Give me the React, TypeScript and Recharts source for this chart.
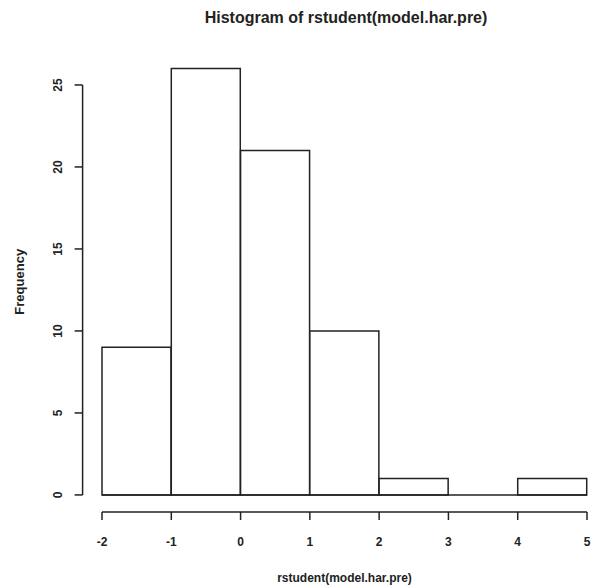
import { BarChart, Bar, XAxis, YAxis, ReferenceLine } from "recharts";

// histogram bins of rstudent(model.har.pre)
const binStarts = [-2, -1, 0, 1, 2, 3, 4];
const counts = [9, 26, 21, 10, 1, 0, 1];
const xTicks = [-2, -1, 0, 1, 2, 3, 4, 5];
const yTicks = [0, 5, 10, 15, 20, 25];

const data = binStarts.map((s, i) => ({
    bin: `${s}`,
    mid: s + 0.5,
    count: counts[i],
}));

const FONT = "'Liberation Sans', Arial, Helvetica, sans-serif";
const INK = "#222";

// R pads the data range by 4% on each side
const xMin = binStarts[0];
const xMax = xTicks[xTicks.length - 1];
const xPad = (xMax - xMin) * 0.04;
const yMax = Math.max(...counts);
const yPad = yMax * 0.04;

const YTick = ({ x, y, payload }: any) => {
    const tx = x - 13;
    return (
        <text
            x={tx}
            y={y}
            transform={`rotate(-90, ${tx}, ${y})`}
            textAnchor="middle"
            fontSize={12}
            fontWeight="bold"
            fontFamily={FONT}
            fill={INK}
        >
            {payload.value}
        </text>
    );
};

const App = () => {
    return (
        <div
            style={{
                position: "fixed",
                left: 0,
                top: 0,
                width: 597,
                height: 588,
                overflow: "hidden",
                background: "#fff",
            }}
        >
            <div
                style={{
                    position: "absolute",
                    left: 346,
                    top: 9,
                    transform: "translateX(-50%)",
                    whiteSpace: "nowrap",
                    fontFamily: FONT,
                    fontWeight: "bold",
                    fontSize: 16,
                    color: INK,
                }}
            >
                Histogram of rstudent(model.har.pre)
            </div>
            <BarChart
                width={640}
                height={588}
                data={data}
                barCategoryGap={0}
                margin={{ top: 51.5, right: 33.6, bottom: 0, left: 0 }}
            >
                <XAxis
                    xAxisId="num"
                    dataKey="mid"
                    type="number"
                    domain={[xMin - xPad, xMax + xPad]}
                    allowDataOverflow
                    ticks={xTicks}
                    interval={0}
                    height={76}
                    axisLine={false}
                    tickLine={{ stroke: INK, strokeWidth: 1.5 }}
                    tickSize={8}
                    tickMargin={17}
                    tick={{ fontSize: 12, fontWeight: "bold", fill: INK, fontFamily: FONT }}
                    label={{
                        value: "rstudent(model.har.pre)",
                        position: "insideBottom",
                        offset: 6,
                        fontSize: 12,
                        fontWeight: "bold",
                        fill: INK,
                        fontFamily: FONT,
                    }}
                />
                <XAxis
                    xAxisId="bins"
                    dataKey="bin"
                    type="category"
                    hide
                    height={0}
                    padding={{ left: 19.4, right: 19.4 }}
                />
                <YAxis
                    type="number"
                    domain={[-yPad, yMax + yPad]}
                    allowDataOverflow
                    ticks={yTicks}
                    interval={0}
                    width={82.6}
                    axisLine={false}
                    tickLine={{ stroke: INK, strokeWidth: 1.5 }}
                    tickSize={8}
                    tickMargin={0}
                    tick={<YTick />}
                    label={{
                        value: "Frequency",
                        angle: -90,
                        position: "insideLeft",
                        offset: 19,
                        fontSize: 13,
                        fontWeight: "bold",
                        fill: INK,
                        fontFamily: FONT,
                        style: { textAnchor: "middle" },
                    }}
                />
                <Bar
                    xAxisId="bins"
                    dataKey="count"
                    fill="#fff"
                    stroke={INK}
                    strokeWidth={1.5}
                    isAnimationActive={false}
                />
                <ReferenceLine
                    xAxisId="num"
                    segment={[
                        { x: xMin, y: 0 },
                        { x: xMax, y: 0 },
                    ]}
                    stroke={INK}
                    strokeWidth={1.5}
                    ifOverflow="visible"
                />
                <ReferenceLine
                    xAxisId="num"
                    segment={[
                        { x: xMin, y: -yPad },
                        { x: xMax, y: -yPad },
                    ]}
                    stroke={INK}
                    strokeWidth={1.5}
                    ifOverflow="visible"
                />
                <ReferenceLine
                    xAxisId="num"
                    segment={[
                        { x: xMin - xPad, y: yTicks[0] },
                        { x: xMin - xPad, y: yTicks[yTicks.length - 1] },
                    ]}
                    stroke={INK}
                    strokeWidth={1.5}
                    ifOverflow="visible"
                />
            </BarChart>
        </div>
    );
};

export default App;
